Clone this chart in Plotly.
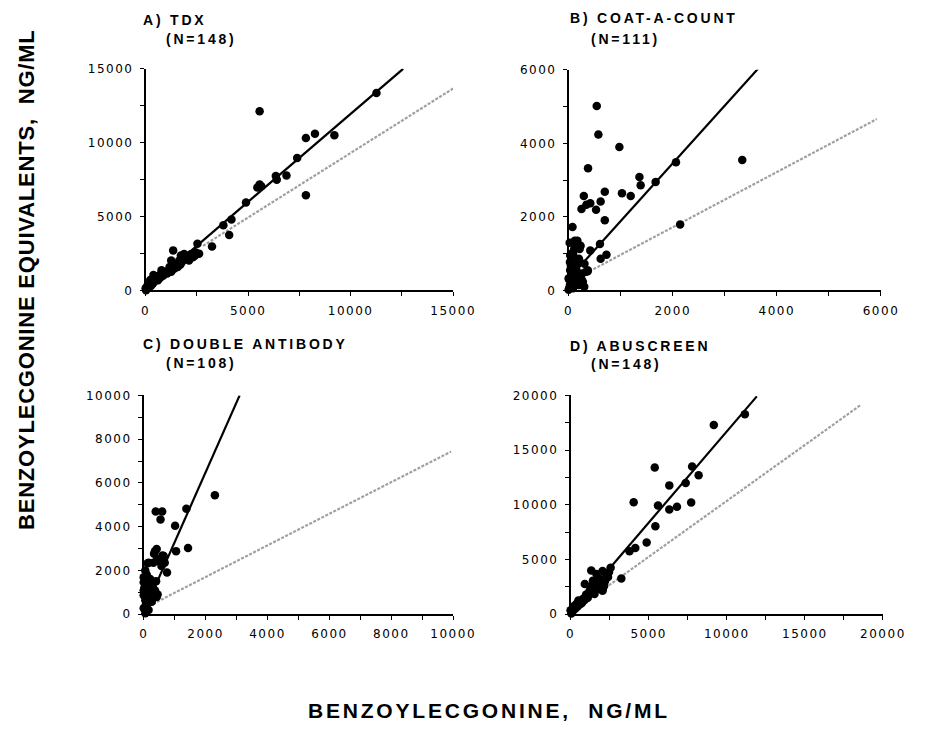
import plotly.graph_objects as go

W, H = 936, 732

# ---------------- data ----------------
# Panel A: TDX
A_X = [11258, 5558, 7816, 8258, 9206, 7390, 6869, 6348, 6395, 5558, 5448, 5637, 7816, 4895,
       4184, 3790, 4074, 3237, 2526, 2605, 1342, 1718, 1877, 2192, 1246, 1640, 2114, 1562,
       1167, 1246, 931, 694, 458, 300, 142, 0, 20, 773, 379, 1687, 1956, 2429, 1404, 221,
       536, 63, 2300, 1800, 1050, 600, 350,
       100, 250, 400, 550, 700, 850, 1000, 1150, 1300, 1450, 1600, 1750, 1900, 2050, 2200,
       1500, 1300, 1100, 900, 2400]
A_Y = [13368, 12133, 10324, 10611, 10500, 8956, 7787, 7743, 7500, 7170, 6971, 7059, 6441, 5956,
       4809, 4412, 3750, 2978, 3155, 2493, 2713, 2369, 2476, 2369, 2036, 2036, 2036, 1593,
       1593, 1261, 1261, 1040, 818, 597, 376, 155, 20, 1372, 1040, 1748, 2147, 2588, 1482, 708,
       929, 265, 2250, 2050, 1150, 700, 450,
       150, 300, 600, 700, 850, 1000, 1200, 1350, 1400, 1650, 1800, 1900, 2100, 2250, 2450,
       1750, 1550, 1300, 1100, 2350]
A_FIT_X = [0, 12560]
A_FIT_Y = [50, 15000]
A_REF_X = [2800, 15000]
A_REF_Y = [3020, 13670]

# Panel B: COAT-A-COUNT
B_X = [540, 572, 975, 373, 3335, 2062, 1360, 1384, 1671, 695, 1025, 1192, 292, 416, 341, 248,
       615, 527, 695, 75, 2142, 168, 230, 602, 416, 106, 727, 615, 366, 261, 137, 44, 44, 13,
       168, 75, 199, 31, 118, 149, 211, 87, 25, 56, 0, 25, 0, 149, 211, 118, 211, 335, 304,
       273, 366, 87,
       10, 30, 60, 90, 120, 180, 50, 20, 100, 150, 250, 300, 200, 80]
B_Y = [5014, 4240, 3902, 3325, 3547, 3485, 3085, 2862, 2952, 2685, 2640, 2569, 2569, 2374, 2329, 2213,
       2418, 2196, 1912, 1725, 1796, 1352, 1218, 1262, 1085, 1129, 969, 862, 525, 463, 329, 689, 156, 67,
       196, 463, 862, 951, 1352, 1218, 1129, 995, 773, 551, 329, 151, 20, 684, 773, 418, 418, 507, 729,
       240, 551, 62,
       300, 550, 800, 400, 250, 300, 1000, 1300, 700, 550, 300, 100, 150, 100]
B_FIT_X = [0, 3690]
B_FIT_Y = [317, 6110]
B_REF_X = [400, 5920]
B_REF_Y = [520, 4660]

# Panel C: DOUBLE ANTIBODY
C_X = [2300, 1379, 387, 596, 543, 1014, 1432, 1045, 418, 334, 648, 439, 752, 125, 470, 313,
       157, 678, 574, 0, 157, 52, 261, 104, 313, 0, 209, 418, 52, 261, 104, 0, 157, 52, 0,
       366, 209, 0, 104, 605, 364,
       30, 80, 150, 200, 250, 100, 50, 300, 350, 150, 400, 450, 20, 120]
C_Y = [5440, 4816, 4697, 4697, 4324, 4041, 3027, 2878, 2982, 2758, 2654, 2505, 1908, 2326, 2428, 2352,
       2352, 2352, 2205, 1458, 1384, 1235, 1160, 1011, 937, 862, 787, 787, 638, 564, 415, 265, 191, 42, 1086,
       1086, 1607, 1682, 1533, 2683, 2876,
       300, 500, 700, 1000, 1300, 1800, 2000, 1200, 800, 1200, 1500, 900, 1200, 1000]
C_FIT_X = [0, 3100]
C_FIT_Y = [100, 10000]
C_REF_X = [300, 9930]
C_REF_Y = [470, 7430]

# Panel D: ABUSCREEN
D_X = [11161, 9173, 5390, 7784, 8199, 6323, 7372, 4042, 7722, 5597, 6323, 6812, 5431, 4872, 4146,
       3773, 3250, 2566, 2464, 1325, 2050, 911, 1429, 1843, 2153, 1636, 2050, 1223, 1533, 1014, 807,
       600, 393, 186, 0, 497, 1843, 290, 1866, 1658, 2073, 50, 700, 1100,
       150, 300, 450, 600, 750, 900, 1050, 1200, 1350, 1500, 1700, 1900, 2200, 2400, 1000, 1300]
D_Y = [18272, 17287, 13415, 13498, 12692, 11775, 12002, 10225, 10211, 9927, 9569, 9826, 8049, 6558, 6051,
       5753, 3252, 4237, 3852, 4000, 3941, 2750, 3045, 3196, 2597, 2597, 2150, 2150, 1854, 1702, 1404,
       1164, 956, 657, 358, 1254, 2300, 806, 3220, 3667, 2325, 50, 1000, 1500,
       300, 500, 700, 900, 1100, 1300, 1500, 1800, 2000, 2200, 2400, 2700, 3000, 3400, 1800, 2500]
D_FIT_X = [0, 11925]
D_FIT_Y = [22, 19912]
D_REF_X = [2450, 18600]
D_REF_Y = [2630, 19150]

# tick values / labels
A_TICKS = [0, 2500, 5000, 7500, 10000, 12500, 15000]
A_TICK_LABELS = ["0", "5000", "10000", "15000"]
B_TICKS = [0, 1000, 2000, 3000, 4000, 5000, 6000]
B_TICK_LABELS = ["0", "2000", "4000", "6000"]
C_TICKS = [0, 1000, 2000, 3000, 4000, 5000, 6000, 7000, 8000, 9000, 10000]
C_TICK_LABELS = ["0", "2000", "4000", "6000", "8000", "10000"]
D_TICKS = [0, 2500, 5000, 7500, 10000, 12500, 15000, 17500, 20000]
D_TICK_LABELS = ["0", "5000", "10000", "15000", "20000"]

PANEL_TITLES = ["A) TDX", "B) COAT-A-COUNT", "C) DOUBLE ANTIBODY", "D) ABUSCREEN"]
PANEL_NS = ["(N=148)", "(N=111)", "(N=108)", "(N=148)"]
X_TITLE = "BENZOYLECGONINE,  NG/ML"
Y_TITLE = "BENZOYLECGONINE EQUIVALENTS,  NG/ML"

# ---------------- layout geometry (pixels) ----------------
# (x0px, x1px, ybottom_px, ytop_px)
GEOM = [
    (145, 462, 289, 63),
    (581, 903, 289, 64),
    (143, 462, 619, 396),
    (583, 905, 619, 396),
]
TITLE_POS = [  # (x_left, y_center line1, x_left line2, y_center line2)
    (140, 13, 164, 32.5),
    (580, 11.5, 602, 32.5),
    (140, 344, 164, 362.5),
    (580, 346, 602, 364),
]

FONT = "Liberation Sans, Arial, Helvetica, sans-serif"
TICK_FONT = "DejaVu Sans, Verdana, sans-serif"


def ls(text, px):
    return f'<span style="letter-spacing:{px}px">{text}</span>'


def ticktext(vals, labels):
    return [ls(str(v), 1.5) if str(v) in labels else "" for v in vals]


panels = [
    (A_X, A_Y, A_FIT_X, A_FIT_Y, A_REF_X, A_REF_Y, A_TICKS, A_TICK_LABELS),
    (B_X, B_Y, B_FIT_X, B_FIT_Y, B_REF_X, B_REF_Y, B_TICKS, B_TICK_LABELS),
    (C_X, C_Y, C_FIT_X, C_FIT_Y, C_REF_X, C_REF_Y, C_TICKS, C_TICK_LABELS),
    (D_X, D_Y, D_FIT_X, D_FIT_Y, D_REF_X, D_REF_Y, D_TICKS, D_TICK_LABELS),
]

fig = go.Figure()
layout = dict(
    width=W, height=H,
    margin=dict(l=0, r=0, t=0, b=0),
    paper_bgcolor="white", plot_bgcolor="white",
    showlegend=False,
    font=dict(family=FONT, color="black"),
)

annotations = []
for i, (px, py, fx, fy, rx, ry, ticks, labels) in enumerate(panels):
    n = i + 1
    xa = "x" if n == 1 else f"x{n}"
    ya = "y" if n == 1 else f"y{n}"
    # reference (gray dotted) line
    fig.add_trace(go.Scatter(x=rx, y=ry, mode="lines", xaxis=xa, yaxis=ya,
                             line=dict(color="#a0a0a0", width=2.2, dash="3px,1.5px"),
                             hoverinfo="skip", cliponaxis=False))
    # regression line
    fig.add_trace(go.Scatter(x=fx, y=fy, mode="lines", xaxis=xa, yaxis=ya,
                             line=dict(color="black", width=2.2),
                             hoverinfo="skip", cliponaxis=False))
    # points
    fig.add_trace(go.Scatter(x=px, y=py, mode="markers", xaxis=xa, yaxis=ya,
                             marker=dict(color="black", size=8.5, line=dict(width=0)),
                             cliponaxis=False))
    x0, x1, yb, yt = GEOM[i]
    rng = [ticks[0], ticks[-1]]
    common = dict(
        range=rng, showgrid=False, zeroline=False, showline=True,
        linecolor="black", linewidth=1.5, ticks="outside", ticklen=4,
        tickwidth=1.2, tickcolor="black", tickmode="array", tickvals=ticks,
        ticktext=ticktext(ticks, labels),
        tickfont=dict(family=TICK_FONT, size=12, color="black"),
        fixedrange=True,
    )
    layout["xaxis" if n == 1 else f"xaxis{n}"] = dict(
        common, domain=[x0 / W, x1 / W], anchor=ya, ticklabelstandoff=4)
    layout["yaxis" if n == 1 else f"yaxis{n}"] = dict(
        common, domain=[(H - yb) / H, (H - yt) / H], anchor=xa, ticklabelstandoff=4)

    tx1, ty1, tx2, ty2 = TITLE_POS[i]
    annotations.append(dict(text=ls(PANEL_TITLES[i], 2.8), xref="paper", yref="paper",
                            x=tx1 / W, y=(H - ty1) / H, xanchor="left", yanchor="middle",
                            showarrow=False,
                            font=dict(family=FONT, size=14, color="black", weight="bold")))
    annotations.append(dict(text=ls(PANEL_NS[i], 2.8), xref="paper", yref="paper",
                            x=tx2 / W, y=(H - ty2) / H, xanchor="left", yanchor="middle",
                            showarrow=False,
                            font=dict(family=FONT, size=14, color="black", weight="bold")))

annotations.append(dict(text=ls(X_TITLE, 2.8), xref="paper", yref="paper",
                        x=499 / W, y=(H - 717) / H, xanchor="center", yanchor="middle",
                        showarrow=False,
                        font=dict(family=FONT, size=21, color="black", weight="bold")))
annotations.append(dict(text=ls(Y_TITLE, 0.8), xref="paper", yref="paper",
                        x=22 / W, y=(H - 278) / H, xanchor="center", yanchor="middle",
                        textangle=-90, showarrow=False,
                        font=dict(family=FONT, size=22, color="black", weight="bold")))
layout["annotations"] = annotations
fig.update_layout(**layout)

# remove the default page margin so the figure sits at the window origin
fig.write_html("out.html", config={"displayModeBar": False},
               post_script="document.body.style.margin='0';document.body.style.overflow='hidden';")
